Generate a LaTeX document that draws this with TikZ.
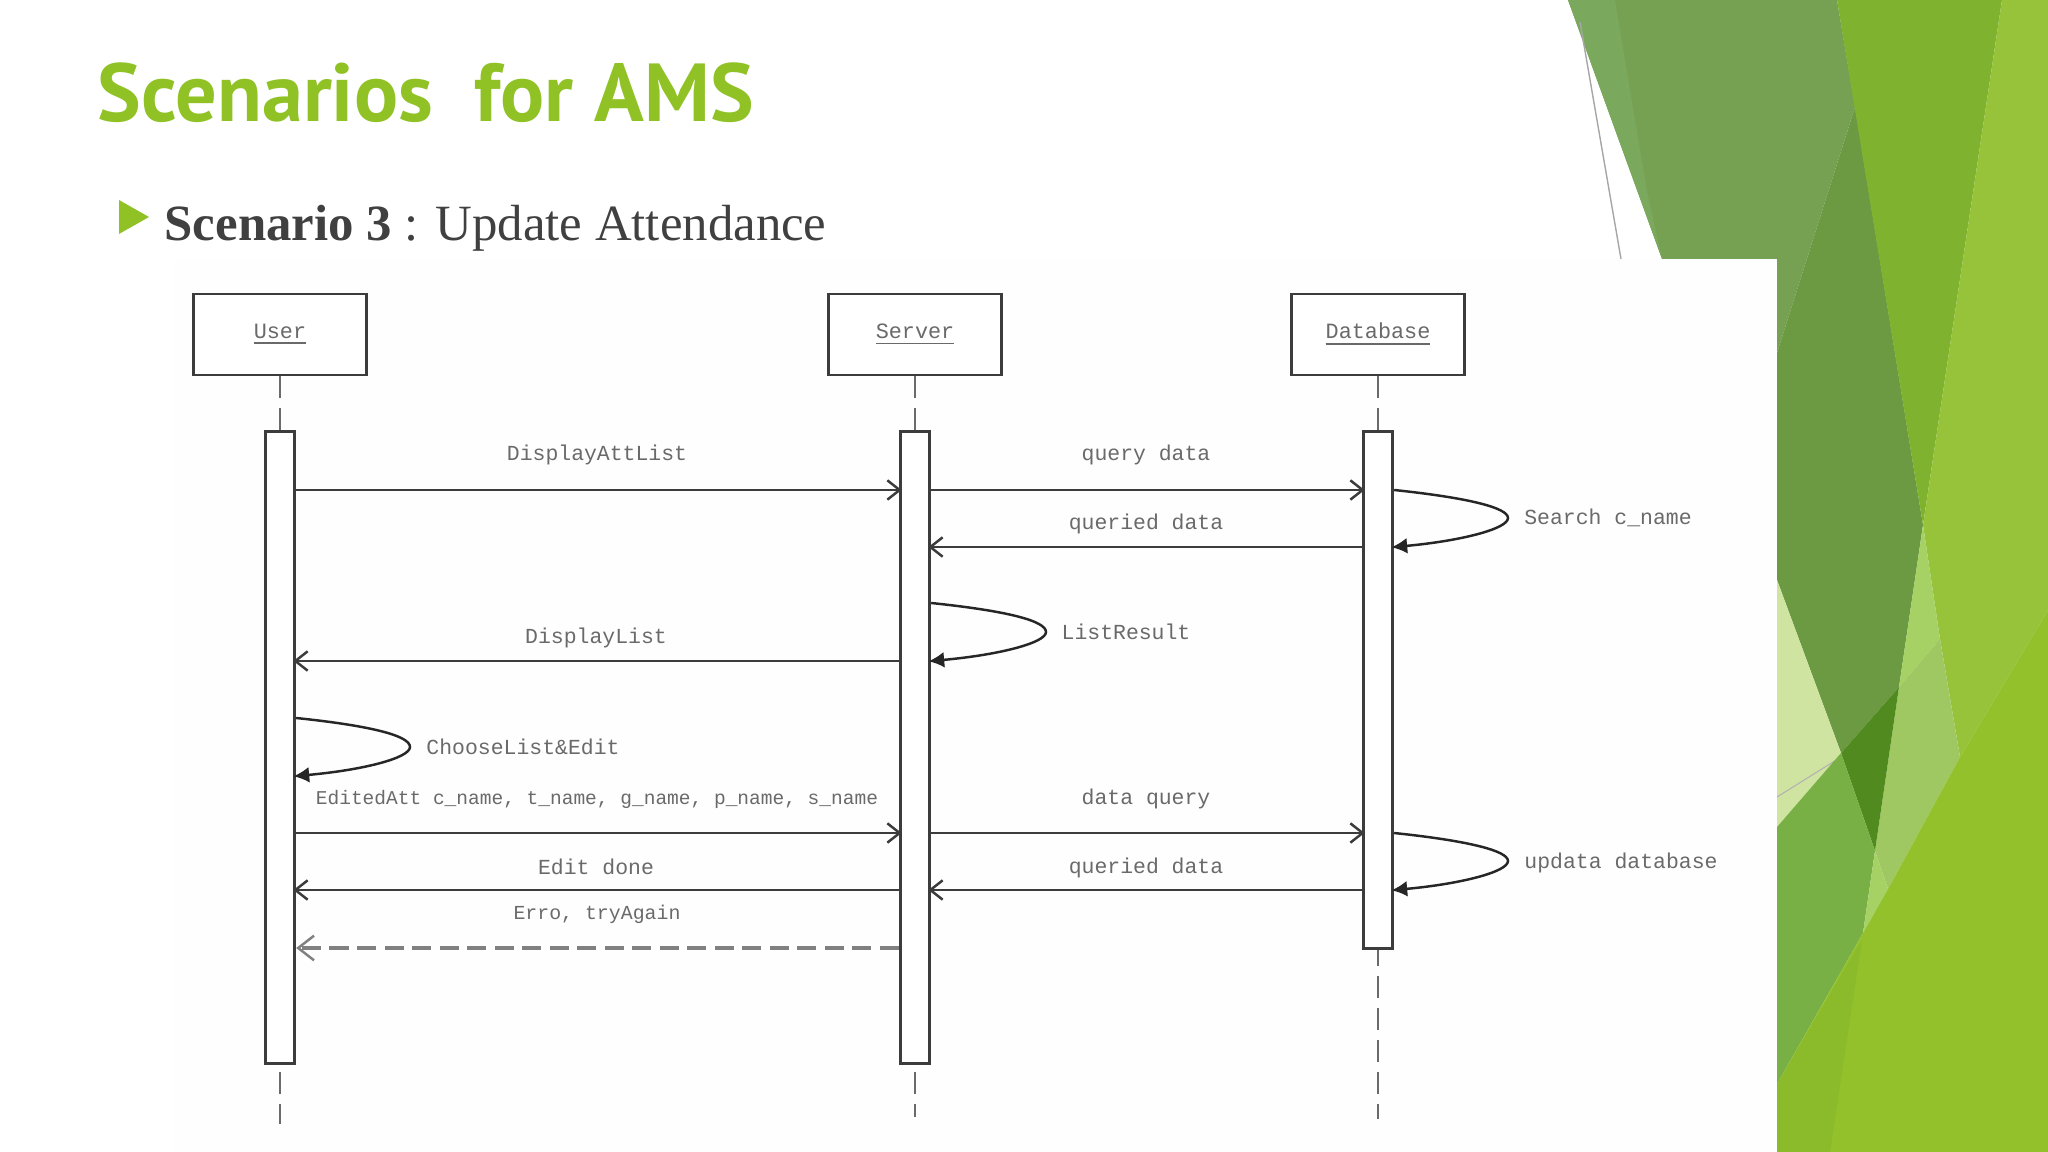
\documentclass[tikz,border=0pt]{standalone}
\usepackage{fontspec}
\usetikzlibrary{arrows.meta}
\setmainfont{Liberation Serif}
\newfontfamily\titlefont{PT Sans}
\newfontfamily\msgfont{Liberation Mono}
\definecolor{titlegreen}{HTML}{90C226}
\definecolor{bodygrey}{HTML}{404040}
\definecolor{linegrey}{HTML}{3C3C3C}
\definecolor{labelgrey}{HTML}{6A6A6A}
\definecolor{panelwhite}{HTML}{FEFEFE}
\definecolor{leafdull}{HTML}{76A052}
\definecolor{leafdullb}{HTML}{7AA85C}
\definecolor{leafdark}{HTML}{6B9A43}
\definecolor{leafmid}{HTML}{7FB22E}
\definecolor{leaflight}{HTML}{97C33B}
\definecolor{leafpale}{HTML}{A6D165}
\definecolor{leafsoft}{HTML}{9FC862}
\definecolor{leafdeep}{HTML}{518B20}
\definecolor{leafwash}{HTML}{CFE4A0}
\definecolor{leafgrass}{HTML}{78B046}
\definecolor{leafbase}{HTML}{92C12C}
\definecolor{leafbaseb}{HTML}{8BBA2B}
\tikzset{
    objbox/.style={draw=linegrey,line width=0.8pt,fill=white,minimum width=1.73cm,minimum height=0.81cm,inner sep=0pt,text=labelgrey,font=\msgfont\fontsize{6.2}{7}\selectfont},
    actbar/.style={draw=linegrey,line width=0.8pt,fill=white,minimum width=0.295cm,inner sep=0pt},
    lifeline/.style={draw=labelgrey,line width=0.5pt,dash pattern=on 0.22cm off 0.1cm},
    msg/.style={draw=linegrey,line width=0.7pt,shorten >=-0.8pt,-{Straight Barb[length=3.5pt,width=5.5pt]}},
    failmsg/.style={draw=gray,line width=1.4pt,dash pattern=on 0.19cm off 0.085cm,-{Straight Barb[length=4.5pt,width=7pt,line width=0.7pt]}},
    selfmsg/.style={draw=black!85,line width=0.7pt,shorten >=-0.8pt,-{Latex[length=4.5pt,width=4.5pt]}},
    msglabel/.style={inner sep=0pt,yshift=-0.01cm,text=labelgrey,font=\msgfont\fontsize{6.1}{7}\selectfont},
}
\begin{document}
\begin{tikzpicture}[x=0.01cm,y=-0.01cm]
    \useasboundingbox (0,0) rectangle (2048,1152);
    % side leaves
    \fill[leafdull] (1568,0) -- (1837,0) -- (1855,107) -- (1777,353) -- (1777,600) -- (1662,259) -- cycle;
    \fill[leafdullb] (1568,0) -- (1615,0) -- (1647,191) -- (1662,259) -- cycle;
    \draw[gray!70,line width=0.4pt] (1580,22) -- (1621,259);
    \fill[leafdark] (1855,107) -- (1923,525) -- (1899,687) -- (1841,753) -- (1777,580) -- (1777,353) -- cycle;
    \fill[leafmid] (1837,0) -- (2002,0) -- (1923,525) -- cycle;
    \fill[leaflight] (2002,0) -- (2048,0) -- (2048,610) -- (1960,757) -- (1940,639) -- (1923,525) -- cycle;
    \fill[leafpale] (1923,525) -- (1940,639) -- (1899,687) -- cycle;
    \fill[leafsoft] (1940,639) -- (1960,757) -- (1888,889) -- (1875,851) -- (1899,687) -- cycle;
    \fill[leafdeep] (1841,753) -- (1899,687) -- (1875,851) -- cycle;
    \fill[leafwash] (1777,580) -- (1841,753) -- (1777,827) -- cycle;
    \draw[gray!60,line width=0.3pt] (1777,797) -- (1841,757);
    \fill[leafgrass] (1777,827) -- (1841,753) -- (1875,851) -- (1863,933) -- (1777,1084) -- cycle;
    \fill[leafpale] (1875,851) -- (1888,889) -- (1863,933) -- cycle;
    \fill[leafbase] (1777,1084) -- (1863,933) -- (1888,889) -- (1960,757) -- (2048,610) -- (2048,1152) -- (1777,1152) -- cycle;
    \fill[leafbaseb] (1777,1084) -- (1862,940) -- (1830,1152) -- (1777,1152) -- cycle;
    \fill[panelwhite] (175,259) rectangle (1777,1152);
    % heading
    \node[anchor=base west,inner sep=0pt,text=titlegreen,font=\titlefont\bfseries\fontsize{23.4}{26}\selectfont] (title) at (97,122) {Scenarios\ \ for AMS};
    \fill[titlegreen] (119,200) -- (149,217) -- (119,234) -- cycle;
    \node[anchor=base west,inner sep=0pt,text=bodygrey,font=\fontsize{14.45}{17}\selectfont] (subtitle) at (164,241) {\textbf{Scenario 3} : Update Attendance};
    % objects
    \node[objbox] (ubox) at (280,334.5) {\raisebox{-0.6pt}{\underline{User}}};
    \node[objbox] (sbox) at (915,334.5) {\raisebox{-0.6pt}{\underline{Server}}};
    \node[objbox] (dbox) at (1378,334.5) {\raisebox{-0.6pt}{\underline{Database}}};
    % lifelines, under the bars
    \coordinate (uend) at (280,1124);
    \coordinate (send) at (915,1117);
    \coordinate (dend) at (1378,1119);
    \coordinate (utop) at (280,432);
    \coordinate (stop) at (915,432);
    \coordinate (dtop) at (1378,432);
    \draw[lifeline] (ubox.south) -- (utop);
    \draw[lifeline] (sbox.south) -- (stop);
    \draw[lifeline] (dbox.south) -- (dtop);
    \draw[lifeline] (utop) -- (uend);
    \draw[lifeline] (stop) -- (send);
    \draw[lifeline] (dtop) -- (dend);
    \node[actbar,minimum height=6.31cm] (ubar) at (280,747.5) {};
    \node[actbar,minimum height=6.31cm] (sbar) at (915,747.5) {};
    \node[actbar,minimum height=5.16cm] (dbar) at (1378,690) {};
    % message rows
    \coordinate (m1) at (0,490);
    \coordinate (m2) at (0,547);
    \coordinate (m3) at (0,603);
    \coordinate (m4) at (0,661);
    \coordinate (m5) at (0,718);
    \coordinate (m6) at (0,776);
    \coordinate (m7) at (0,833);
    \coordinate (m8) at (0,890);
    \coordinate (m9) at (0,948);
    \draw[msg] (ubar.east |- m1) -- (sbar.west |- m1);
    \draw[msg] (sbar.east |- m1) -- (dbar.west |- m1);
    \draw[msg] (dbar.west |- m2) -- (sbar.east |- m2);
    \draw[msg] (sbar.west |- m4) -- (ubar.east |- m4);
    \draw[msg] (ubar.east |- m7) -- (sbar.west |- m7);
    \draw[msg] (sbar.east |- m7) -- (dbar.west |- m7);
    \draw[msg] (dbar.west |- m8) -- (sbar.east |- m8);
    \draw[msg] (sbar.west |- m8) -- (ubar.east |- m8);
    \draw[failmsg] (sbar.west |- m9) -- (ubar.east |- m9);
    % self calls
    \draw[selfmsg] (dbar.east |- m1) .. controls (1470,498) and (1508,508) .. (1508,518) .. controls (1508,529) and (1460,541) .. (dbar.east |- m2);
    \draw[selfmsg] (sbar.east |- m3) .. controls (1008,611) and (1046,621) .. (1046,632) .. controls (1046,643) and (998,655) .. (sbar.east |- m4);
    \draw[selfmsg] (ubar.east |- m5) .. controls (373,726) and (410,736) .. (410,747) .. controls (410,758) and (363,770) .. (ubar.east |- m6);
    \draw[selfmsg] (dbar.east |- m7) .. controls (1470,841) and (1508,851) .. (1508,861) .. controls (1508,872) and (1460,884) .. (dbar.east |- m8);
    % labels
    \node[msglabel] (l1) at (597,454) {DisplayAttList};
    \node[msglabel] (l2) at (1146,454) {query data};
    \node[msglabel] (l3) at (1146,523) {queried data};
    \node[msglabel] (l4) at (1608,517) {Search c\_name};
    \node[msglabel] (l5) at (1126,631) {ListResult};
    \node[msglabel] (l6) at (596,637) {DisplayList};
    \node[msglabel] (l7) at (523,746) {ChooseList\&Edit};
    \node[msglabel,font=\msgfont\fontsize{5.55}{7}\selectfont] (l8) at (597,798) {EditedAtt c\_name, t\_name, g\_name, p\_name, s\_name};
    \node[msglabel] (l9) at (1146,798) {data query};
    \node[msglabel] (l10) at (1146,867) {queried data};
    \node[msglabel] (l11) at (1621,862) {updata database};
    \node[msglabel] (l12) at (596,866) {Edit done};
    \node[msglabel,font=\msgfont\fontsize{5.65}{7}\selectfont] (l13) at (597,913) {Erro, tryAgain};
\end{tikzpicture}
\end{document}
